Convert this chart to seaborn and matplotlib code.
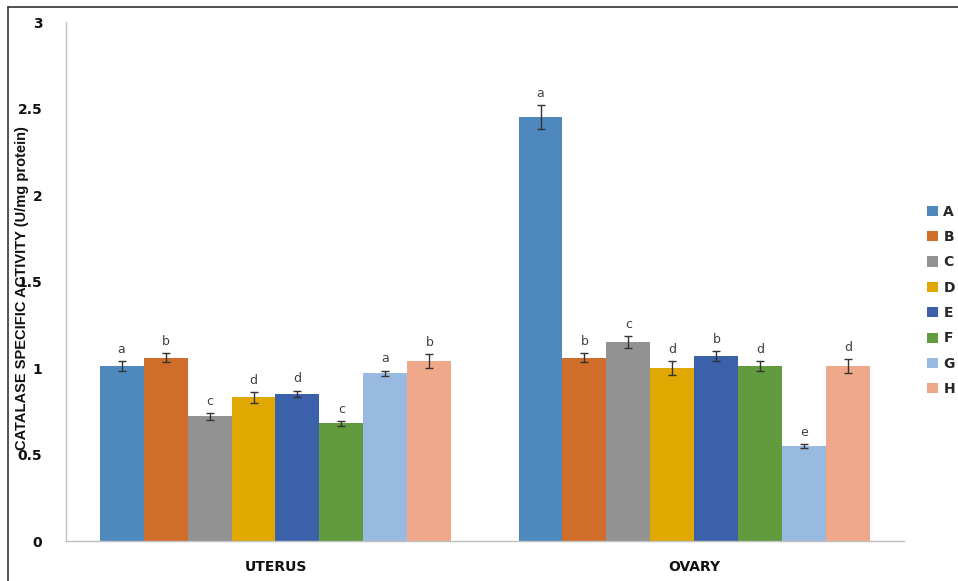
import matplotlib
matplotlib.use("Agg")
import matplotlib.pyplot as plt
from matplotlib.lines import Line2D
from matplotlib.ticker import FuncFormatter
import seaborn as sns
import pandas as pd
import numpy as np

# Catalase specific activity per treatment group (U/mg protein)
tissues = ["UTERUS", "OVARY"]
groups = ["A", "B", "C", "D", "E", "F", "G", "H"]
uterus_mean = [1.01, 1.06, 0.72, 0.83, 0.85, 0.68, 0.97, 1.04]
uterus_err = [0.03, 0.025, 0.02, 0.03, 0.02, 0.015, 0.015, 0.04]
uterus_letters = ["a", "b", "c", "d", "d", "c", "a", "b"]
ovary_mean = [2.45, 1.06, 1.15, 1.00, 1.07, 1.01, 0.55, 1.01]
ovary_err = [0.07, 0.025, 0.035, 0.04, 0.03, 0.03, 0.01, 0.04]
ovary_letters = ["a", "b", "c", "d", "b", "d", "e", "d"]

colors = ["#4E88BD", "#D16D2A", "#929292", "#E0A800",
          "#3A61AA", "#629A3E", "#98B9E0", "#F0A88A"]

df = pd.DataFrame({
    "tissue": np.repeat(tissues, len(groups)),
    "group": groups * 2,
    "value": uterus_mean + ovary_mean,
    "err": uterus_err + ovary_err,
    "letter": uterus_letters + ovary_letters,
})

sns.set_theme(style="white")
plt.rcParams["font.family"] = ["DejaVu Sans"]

fig = plt.figure(figsize=(9.58, 5.81), dpi=100)
ax = fig.add_axes([0.0689, 0.0688, 0.8747, 0.8933])

sns.barplot(data=df, x="tissue", y="value", hue="group", order=tissues,
            hue_order=groups, palette=colors, width=0.84, errorbar=None,
            saturation=1, linewidth=0, ax=ax, legend=True)

# error bars and significance letters placed on the bar centres
bars = [p for p in ax.patches if p.get_height() > 0][:len(df)]
for k, bar in enumerate(bars):
    gi = k // len(tissues)
    ti = k % len(tissues)
    row = df[(df.tissue == tissues[ti]) & (df.group == groups[gi])].iloc[0]
    cx = bar.get_x() + bar.get_width() / 2
    ax.errorbar(cx, row.value, yerr=row.err, fmt="none", ecolor="#333333",
                elinewidth=1, capsize=3, capthick=1)
    ax.text(cx, row.value + row.err + 0.03, row.letter, ha="center",
            va="bottom", fontsize=9, color="#404040")

ax.set_ylim(0, 3)
ax.set_yticks(np.arange(0, 3.01, 0.5))
ax.yaxis.set_major_formatter(FuncFormatter(lambda v, p: f"{v:g}"))
ax.set_xlim(-0.5, 1.5)
ax.set_xticks([0, 1])
ax.set_xticks([-0.5, 0.5, 1.5], minor=True)
ax.tick_params(axis="x", which="major", length=0, pad=14)
ax.tick_params(axis="x", which="minor", length=5, color="#BFBFBF", width=1,
               direction="out")
ax.tick_params(axis="y", length=5, color="#BFBFBF", width=1, direction="out",
               pad=12)
for lab in ax.get_xticklabels() + ax.get_yticklabels():
    lab.set_fontweight("bold")
    lab.set_fontsize(10)
    lab.set_color("#111111")

for side in ["top", "right"]:
    ax.spines[side].set_visible(False)
for side in ["left", "bottom"]:
    ax.spines[side].set_color("#BFBFBF")
    ax.spines[side].set_linewidth(1)

ax.set_xlabel("")
ax.set_ylabel("")
fig.text(0.023, 0.505, "CATALASE SPECIFIC ACTIVITY (U/mg protein)",
         rotation=90, ha="center", va="center", fontsize=10.5,
         fontweight="bold", color="#111111",
         family=["Liberation Sans Narrow", "Liberation Sans", "DejaVu Sans"])

handles, labels = ax.get_legend_handles_labels()
ax.get_legend().remove()
leg = fig.legend(handles, labels, loc="center left",
                 bbox_to_anchor=(0.968, 0.483), frameon=False,
                 borderpad=0, borderaxespad=0,
                 handlelength=0.75, handleheight=0.75, handletextpad=0.4,
                 labelspacing=0.82, prop={"weight": "bold", "size": 10})

# outer frame lines
fig.add_artist(Line2D([0.0084, 0.0084], [0.0, 0.988], color="#333333",
                      lw=1.2, transform=fig.transFigure))
fig.add_artist(Line2D([0.0084, 1.0], [0.988, 0.988], color="#333333",
                      lw=1.2, transform=fig.transFigure))

fig.savefig("out.png", dpi=100)
